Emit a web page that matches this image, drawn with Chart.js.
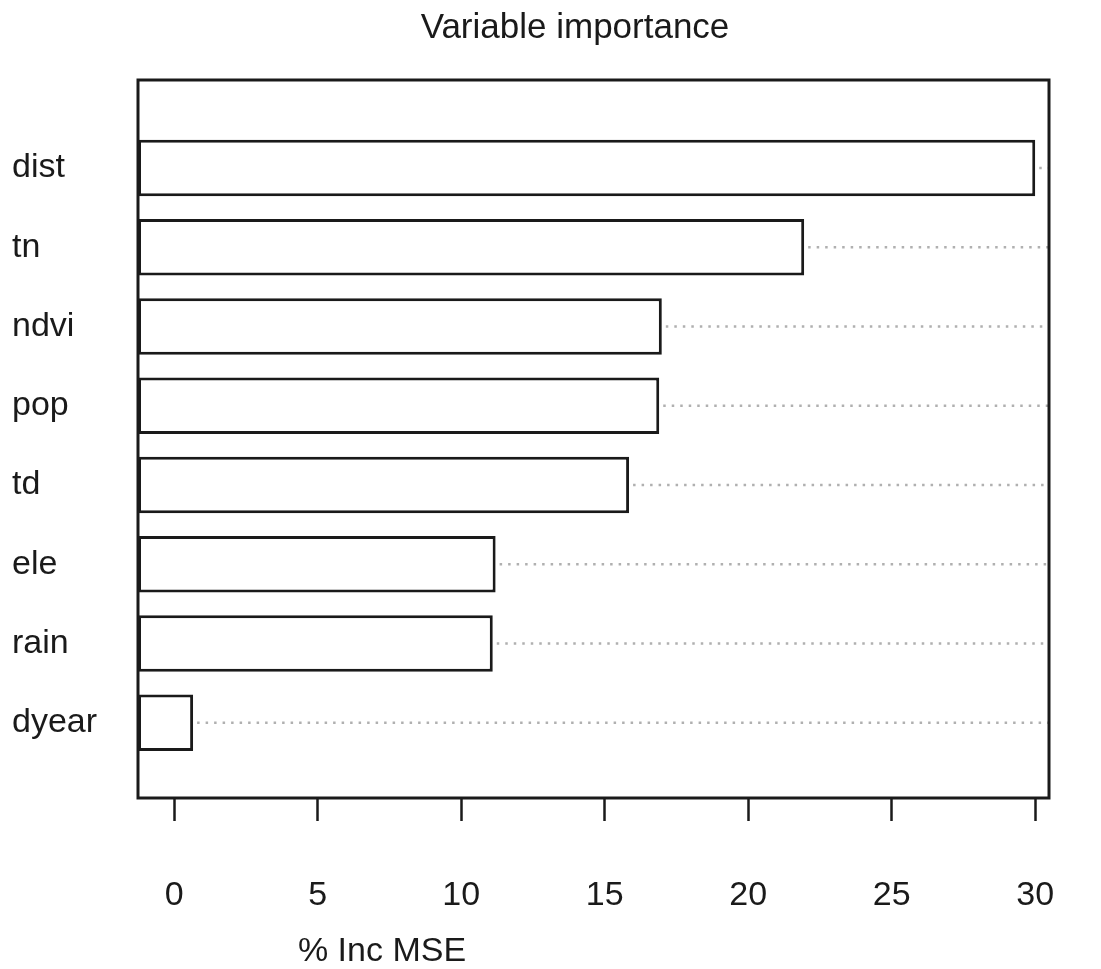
<!DOCTYPE html>
<html>
<head>
<meta charset="utf-8">
<title>Variable importance</title>
<script src="https://cdn.jsdelivr.net/npm/chart.js@4.4.1/dist/chart.umd.min.js"></script>
<style>
  html, body { margin: 0; padding: 0; background: #ffffff; }
  canvas { display: block; }
</style>
</head>
<body>
<canvas id="chart" width="1101" height="969"></canvas>
<script>
// ---- data ----
const categories = ['dist', 'tn', 'ndvi', 'pop', 'td', 'ele', 'rain', 'dyear'];
const incMSE = [30.0, 21.95, 16.99, 16.9, 15.85, 11.2, 11.1, 0.66];
const xTicks = [0, 5, 10, 15, 20, 25, 30];
const chartTitle = 'Variable importance';
const xAxisTitle = '% Inc MSE';

// ---- layout / style ----
const FONT = "'Liberation Sans', Arial, Helvetica, sans-serif";
const INK = '#1a1a1a';
const X_MIN = -1.26, X_MAX = 30.48;
const Y_MIN = 0.05, Y_MAX = 9.11;
const n = categories.length;
const rowPos = categories.map((_, i) => n - i); // top row = highest position

const framePlugin = {
  id: 'frame',
  afterDatasetsDraw(chart) {
    const { ctx, chartArea: a } = chart;
    ctx.save();
    ctx.strokeStyle = INK;
    ctx.lineWidth = 3;
    ctx.strokeRect(a.left, a.top, a.right - a.left, a.bottom - a.top);
    ctx.restore();
  }
};

const dotLinePlugin = {
  id: 'dotLines',
  beforeDatasetsDraw(chart) {
    const { ctx, chartArea: a } = chart;
    const meta = chart.getDatasetMeta(0);
    ctx.save();
    ctx.strokeStyle = '#b0b0b0';
    ctx.lineWidth = 2.5;
    ctx.setLineDash([2.5, 6]);
    meta.data.forEach(el => {
      ctx.beginPath();
      ctx.moveTo(el.x + 4, el.y);
      ctx.lineTo(a.right, el.y);
      ctx.stroke();
    });
    ctx.restore();
  }
};

const textPlugin = {
  id: 'texts',
  afterDraw(chart) {
    const { ctx } = chart;
    ctx.save();
    ctx.fillStyle = INK;
    ctx.textBaseline = 'alphabetic';
    ctx.textAlign = 'center';
    ctx.font = '35px ' + FONT;
    ctx.fillText(chartTitle, 575, 38);
    ctx.font = '34px ' + FONT;
    ctx.fillText(xAxisTitle, 382, 961);
    ctx.restore();
  }
};

new Chart(document.getElementById('chart'), {
  type: 'bar',
  data: {
    datasets: [{
      data: incMSE.map((v, i) => ({ x: v, y: rowPos[i] })),
      base: X_MIN,
      backgroundColor: '#ffffff',
      borderColor: INK,
      borderWidth: 3,
      borderSkipped: false,
      categoryPercentage: 0.8,
      barPercentage: 0.89
    }]
  },
  options: {
    indexAxis: 'y',
    responsive: false,
    devicePixelRatio: 1,
    animation: false,
    layout: { padding: { left: 12, right: 52, top: 80, bottom: 0 } },
    plugins: {
      legend: { display: false },
      tooltip: { enabled: false },
      title: { display: false }
    },
    scales: {
      x: {
        type: 'linear',
        position: 'bottom',
        min: X_MIN,
        max: X_MAX,
        afterBuildTicks: s => { s.ticks = xTicks.map(v => ({ value: v })); },
        afterFit: s => { s.height = 171; s.paddingLeft = 0; s.paddingRight = 0; },
        ticks: {
          autoSkip: false,
          maxRotation: 0,
          padding: 54,
          color: INK,
          font: { family: FONT, size: 34 }
        },
        grid: {
          drawOnChartArea: false,
          drawTicks: true,
          tickLength: 23,
          tickWidth: 2.5,
          tickColor: INK
        },
        border: { display: false }
      },
      y: {
        type: 'linear',
        position: 'left',
        offset: false,
        min: Y_MIN,
        max: Y_MAX,
        afterBuildTicks: s => { s.ticks = rowPos.map(v => ({ value: v })); },
        afterFit: s => { s.width = 126; s.paddingTop = 0; s.paddingBottom = 0; },
        ticks: {
          autoSkip: false,
          crossAlign: 'far',
          padding: 0,
          color: INK,
          font: { family: FONT, size: 34 },
          callback: v => categories[n - v]
        },
        grid: { display: false, drawTicks: false, offset: false },
        border: { display: false }
      }
    }
  },
  plugins: [dotLinePlugin, framePlugin, textPlugin]
});
</script>
</body>
</html>
